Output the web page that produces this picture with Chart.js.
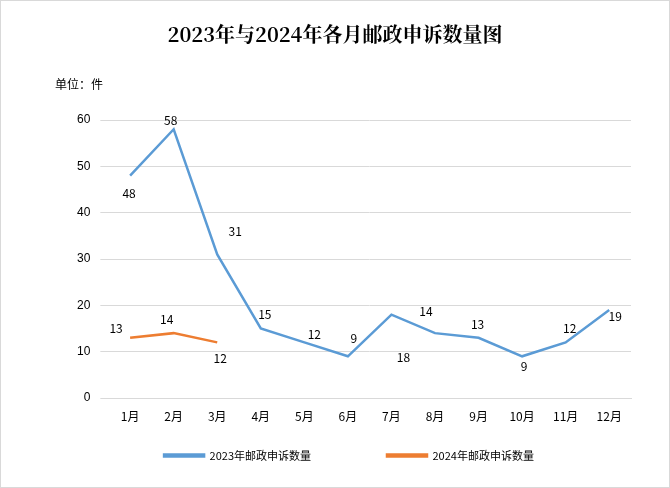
<!DOCTYPE html>
<html><head><meta charset="utf-8">
<script src="https://cdn.jsdelivr.net/npm/chart.js@4/dist/chart.umd.min.js"></script>
<style>
body{margin:0;background:#fff}
#wrap{position:relative;width:668px;height:486px;border:1px solid #d9d9d9}
#t{position:absolute;left:0;width:668px;top:18px;text-align:center;font:bold 20px "Noto Serif CJK SC","Noto Sans CJK SC",serif;color:#000}
#u{position:absolute;left:54px;top:74px;font:12px "Noto Sans CJK SC",sans-serif;color:#000}
canvas{position:absolute;left:0;top:0}
</style></head><body>
<div id="wrap"><canvas id="c" width="668" height="486"></canvas>
<div id="t">2023年与2024年各月邮政申诉数量图</div><div id="u">单位：件</div></div>
<script>
const months = ["1月","2月","3月","4月","5月","6月","7月","8月","9月","10月","11月","12月"];
const y2023 = [48,58,31,15,12,9,18,14,13,9,12,19];
const y2024 = [13,14,12];
// label offsets [dx,dy] per point
const off2023 = [[-1,18],[-3,-9],[18,-23],[4,-14],[10,-8],[6,-18],[12,43],[-9,-22],[-1,-13],[2,10],[4,-14],[6,6]];
const off2024 = [[-14,-9],[-7,-14],[3,16]];

const labelPlugin = {
  id: "lbl",
  afterDatasetsDraw(chart) {
    const ctx = chart.ctx;
    ctx.save();
    ctx.font = "12px 'Noto Sans CJK SC', sans-serif";
    ctx.fillStyle = "#000";
    ctx.textAlign = "center";
    ctx.textBaseline = "middle";
    [off2023, off2024].forEach((offs, di) => {
      chart.getDatasetMeta(di).data.forEach((p, i) => {
        const v = chart.data.datasets[di].data[i];
        ctx.fillText(String(v), p.x + offs[i][0], p.y + offs[i][1]);
      });
    });
    ctx.restore();
  }
};

new Chart(document.getElementById("c"), {
  type: "line",
  data: {
    labels: months,
    datasets: [
      {label: "2023年邮政申诉数量", data: y2023, borderColor: "#5b9bd5", backgroundColor: "#5b9bd5", borderWidth: 2.5, pointRadius: 0, tension: 0},
      {label: "2024年邮政申诉数量", data: y2024, borderColor: "#ed7d31", backgroundColor: "#ed7d31", borderWidth: 2.5, pointRadius: 0, tension: 0}
    ]
  },
  options: {
    responsive: false, animation: false,
    layout: {padding: {left: 66, right: 38, top: 119, bottom: 16}},
    plugins: {
      legend: {position: "bottom", labels: {boxWidth: 40, boxHeight: 2, padding: 10, color: "#000",
        font: {size: 11, family: "'Noto Sans CJK SC', sans-serif"},
        generateLabels(chart) {
          const items = Chart.defaults.plugins.legend.labels.generateLabels(chart);
          items[0].text += "\u3000\u3000\u3000\u3000\u3000\u3000";
          return items;
        }}},
      tooltip: {enabled: false}
    },
    scales: {
      x: {offset: true, grid: {display: false}, border: {color: "#d9d9d9"},
        ticks: {color: "#000", font: {size: 12, family: "'Noto Sans CJK SC', sans-serif"}},
        afterFit(s) { s.height = 42; }},
      y: {min: 0, max: 60, ticks: {stepSize: 10, color: "#000", padding: 10, font: {size: 12}}, grid: {color: "#d9d9d9"}, border: {display: false}}
    }
  },
  plugins: [labelPlugin]
});
</script></body></html>
